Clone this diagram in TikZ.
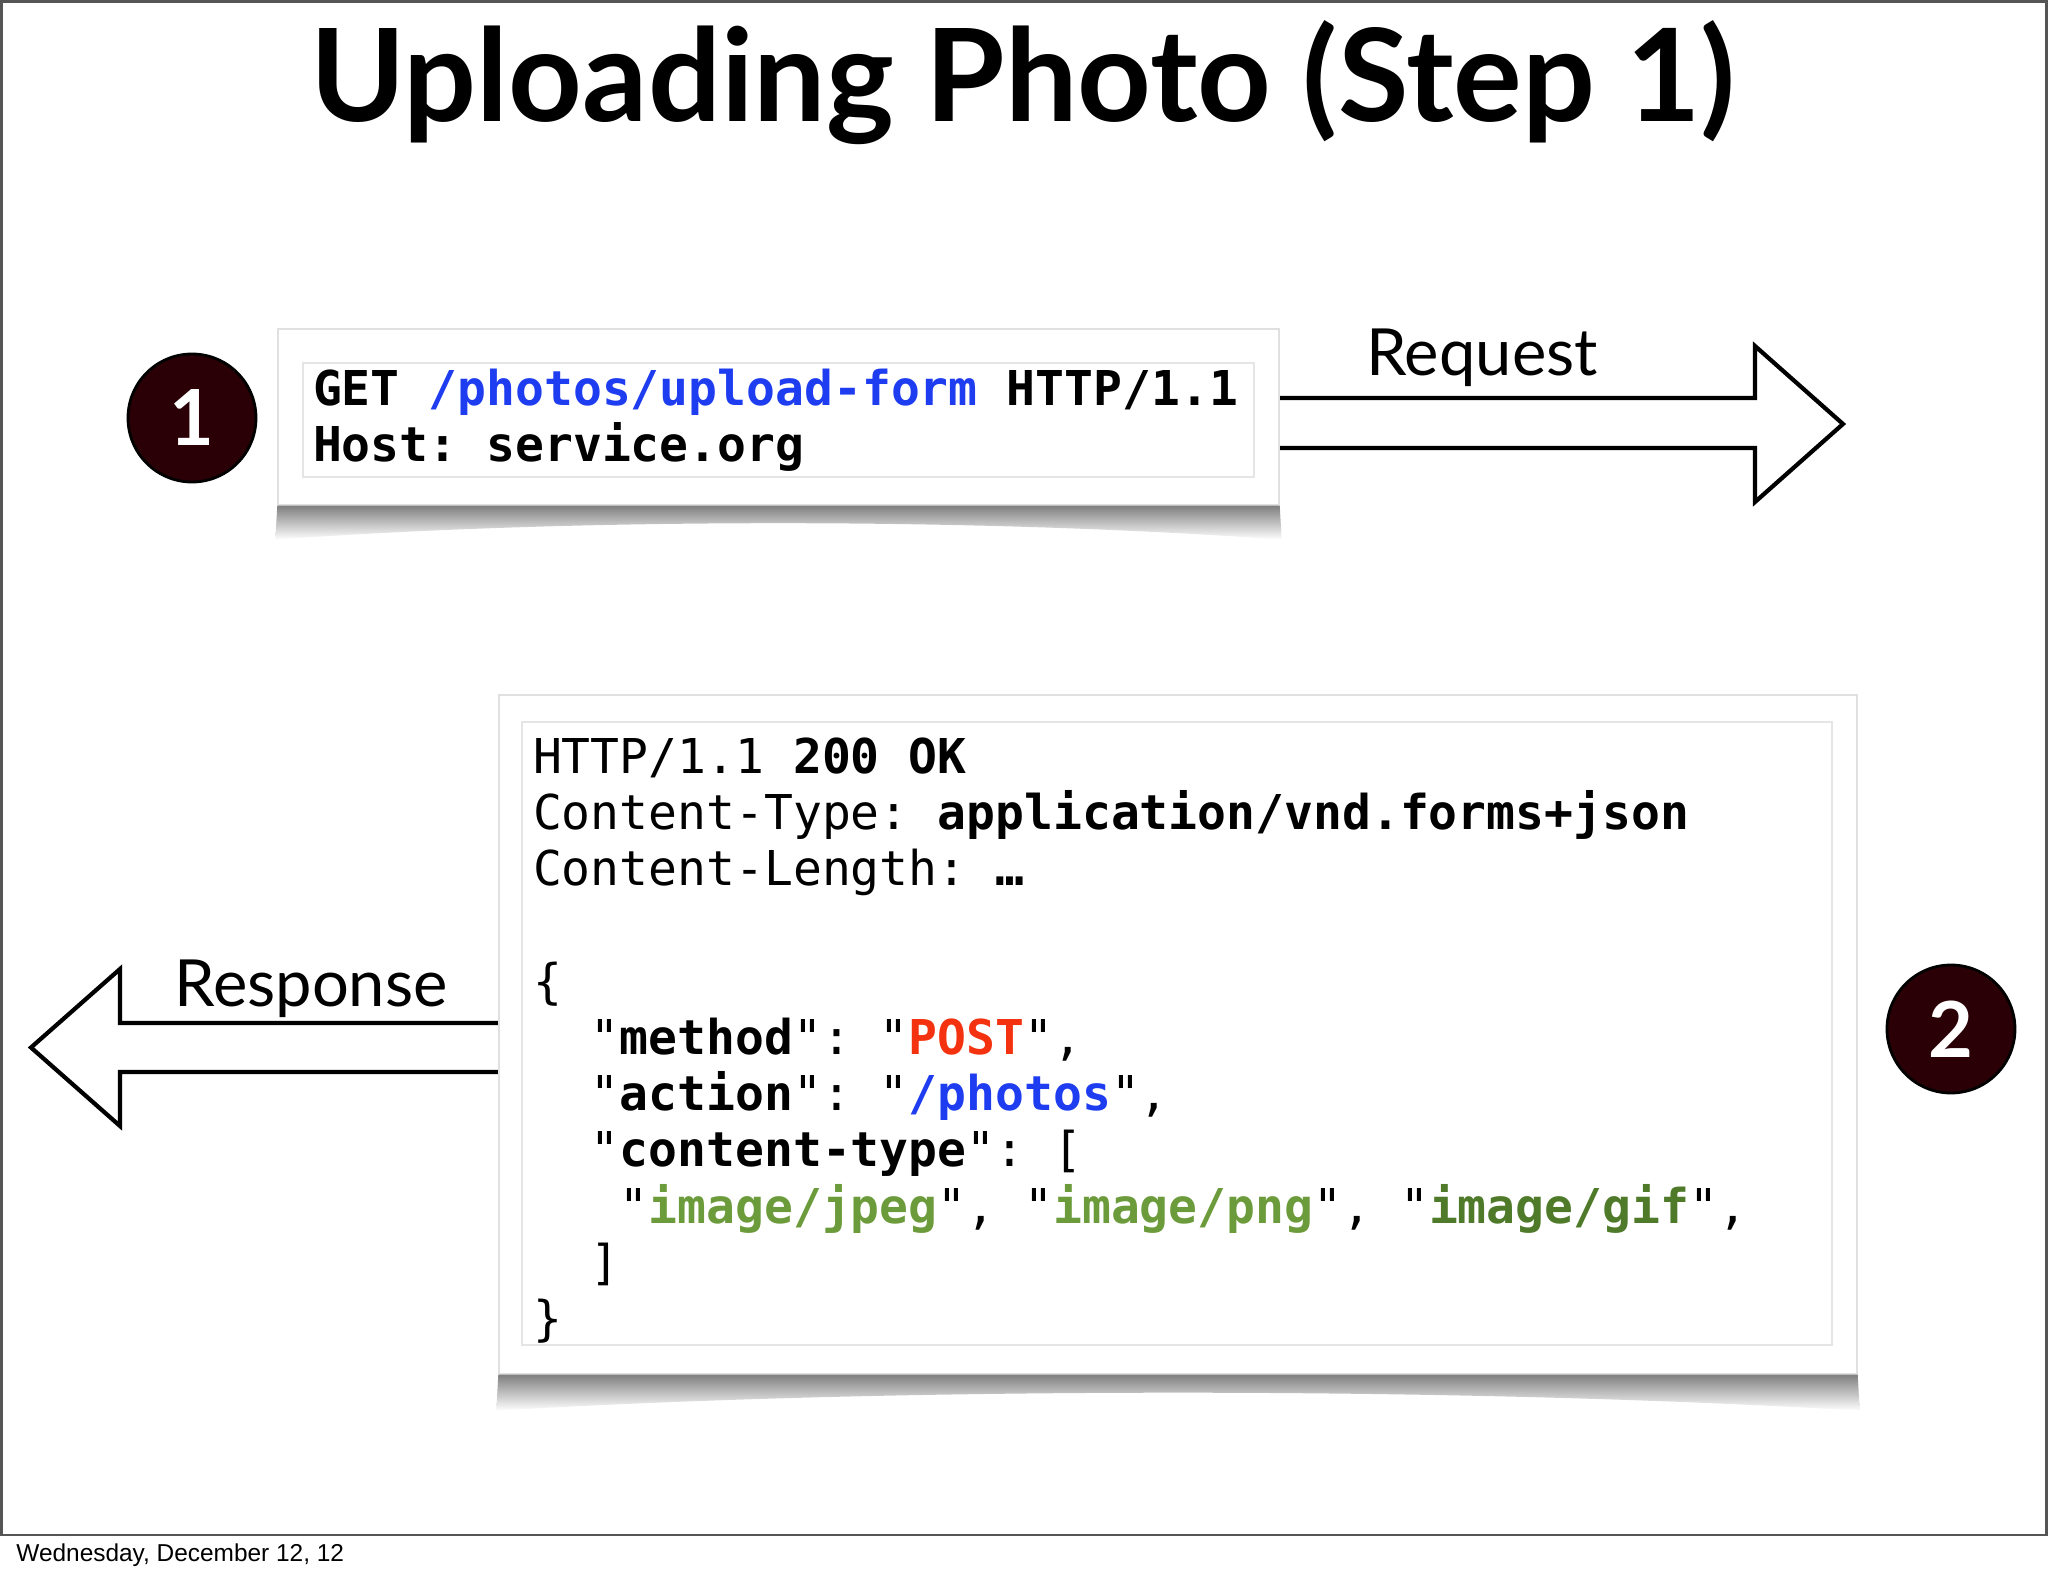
\documentclass[tikz,border=0pt]{standalone}
\usepackage{fontspec}
\setmainfont{Lato}
\setmonofont{DejaVu Sans Mono}
\newfontfamily\footfont{Liberation Sans}
\usetikzlibrary{calc}

\definecolor{urlblue}{HTML}{1E3CF0}
\definecolor{postred}{HTML}{F5320F}
\definecolor{mimegreen}{HTML}{6B9B3A}
\definecolor{mimedark}{HTML}{4E7A2A}
\definecolor{badgefill}{HTML}{2A0006}
\definecolor{slideframe}{HTML}{555555}

% monospaced code text with full-width spaces
\newcommand{\codefont}{\ttfamily\fontsize{13.66}{16}\selectfont}
\newcommand{\monospaces}{\spaceskip=0.602em\relax\xspaceskip=0.602em\relax}

\begin{document}
\begin{tikzpicture}[
  font=\normalsize,
  card/.style={draw=black!12, fill=white, line width=0.4pt, inner sep=0pt},
  code/.style={
    draw=black!10,
    line width=0.4pt,
    inner xsep=0.1cm,
    inner ysep=0pt,
    align=left,
    font=\codefont,
    execute at begin node=\monospaces
  },
  badge/.style={
    circle,
    draw=black,
    line width=0.8pt,
    fill=badgefill,
    text=white,
    minimum size=1.28cm,
    inner sep=0pt,
    font=\bfseries\fontsize{22}{22}\selectfont
  },
  blockarr/.style={draw=black, line width=1.2pt, line join=miter, fill=white},
  lbl/.style={font=\fontsize{18.5}{20}\selectfont, anchor=base},
  cardshadow/.style={top color=black!50, bottom color=white, draw=none}
]

\useasboundingbox (0,0) rectangle (20.48,-15.76);

% -------------------------------------------------
% Slide frame, title and footer
% -------------------------------------------------
\draw[slideframe, line width=0.8pt] (0.014,-0.014) rectangle (20.466,-15.35);

\node[anchor=base, font=\bfseries\fontsize{36.6}{38}\selectfont] (title) at (10.23,-1.21)
  {Uploading Photo (Step 1)};

\node[anchor=base west, font=\footfont\fontsize{6.95}{8}\selectfont] (footer) at (0.04,-15.61)
  {Wednesday, December 12, 12};

% -------------------------------------------------
% Block arrows (drawn first, their tails go under the cards)
% -------------------------------------------------
\coordinate (reqtail) at (12.6,-4.24);
\coordinate (restail) at (5.2,-10.475);

\draw[blockarr] ($(reqtail)+(0,0.26)$) -- (17.55,-3.98) -- (17.55,-3.46) -- (18.43,-4.24)
  -- (17.55,-5.02) -- (17.55,-4.48) -- ($(reqtail)+(0,-0.24)$);
\draw[blockarr] ($(restail)+(0,0.245)$) -- (1.20,-10.23) -- (1.20,-9.69) -- (0.31,-10.475)
  -- (1.20,-11.26) -- (1.20,-10.72) -- ($(restail)+(0,-0.245)$);

\node[lbl] (reqlbl) at (14.82,-3.75) {Request};
\node[lbl] (reslbl) at (3.11,-10.06) {Response};

% -------------------------------------------------
% Request card
% -------------------------------------------------
\node[card, minimum width=10.01cm, minimum height=1.76cm] (req) at (7.785,-4.17) {};
\shade[cardshadow] (req.south west) -- (req.south east) -- ++(0.02,-0.34)
  .. controls +(-3,0.22) and +(3,0.22) .. ($(req.south west)+(-0.02,-0.34)$) -- cycle;

\node[code, minimum width=9.51cm, minimum height=1.14cm, text width=9.31cm] (reqcode) at (7.785,-4.20) {%
\textbf{GET \textcolor{urlblue}{/photos/upload-form} HTTP/1.1}\\
\textbf{Host: service.org}};

% -------------------------------------------------
% Response card
% -------------------------------------------------
\node[card, minimum width=13.58cm, minimum height=6.79cm] (res) at (11.78,-10.345) {};
\shade[cardshadow] (res.south west) -- (res.south east) -- ++(0.02,-0.36)
  .. controls +(-4,0.24) and +(4,0.24) .. ($(res.south west)+(-0.02,-0.36)$) -- cycle;

\node[code, minimum width=13.10cm, minimum height=6.23cm, text width=12.88cm] (rescode) at (11.77,-10.335) {%
\rule{0pt}{14.1pt}HTTP/1.1 \textbf{200 OK}\\
Content-Type: \textbf{application/vnd.forms+json}\\
Content-Length: \textbf{…}\\
\strut\\
\{\\
\hphantom{xx}"\textbf{method}": "\textbf{\textcolor{postred}{POST}}",\\
\hphantom{xx}"\textbf{action}": "\textbf{\textcolor{urlblue}{/photos}}",\\
\hphantom{xx}"\textbf{content-type}": [\\
\hphantom{xxx}"\textbf{\textcolor{mimegreen}{image/jpeg}}", "\textbf{\textcolor{mimegreen}{image/png}}", "\textbf{\textcolor{mimedark}{image/gif}}",\\
\hphantom{xx}]\\
\}};

% -------------------------------------------------
% Step badges
% -------------------------------------------------
\node[badge] (step1) at (1.92,-4.18) {1};
\node[badge] (step2) at (19.51,-10.29) {2};

\end{tikzpicture}
\end{document}
